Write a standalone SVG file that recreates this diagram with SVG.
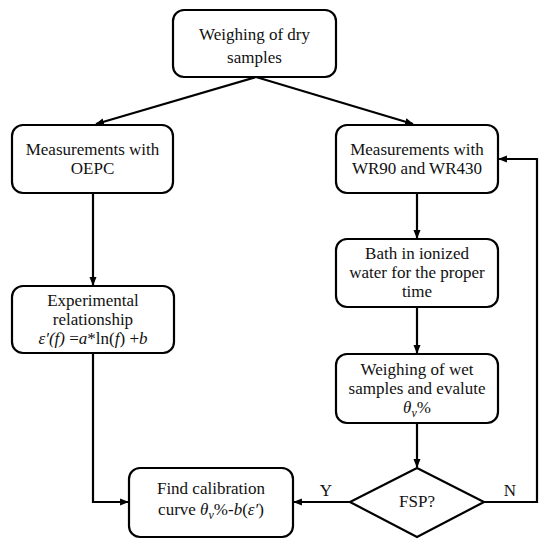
<svg xmlns="http://www.w3.org/2000/svg" width="550" height="549" viewBox="0 0 550 549">
<style>
.box{fill:#fff;stroke:#000;stroke-width:2.2}
.ln{fill:none;stroke:#000;stroke-width:2.2}
text{font-family:'Liberation Serif','DejaVu Serif','Times New Roman',Times,serif;font-size:17px;fill:#111;text-anchor:middle}
.i{font-style:italic}
.sub{font-size:12px;font-style:italic}
</style>
<defs>
<marker id="ah" viewBox="0 0 10 10" refX="9" refY="5" markerWidth="4" markerHeight="4" markerUnits="strokeWidth" orient="auto">
<path d="M0,1 L10,5 L0,9 Z" fill="#000"/>
</marker>
</defs>
<rect width="550" height="549" fill="#fff"/>
<g id="connectors">
<line class="ln" x1="256" y1="77" x2="96" y2="124" marker-end="url(#ah)"/>
<line class="ln" x1="256" y1="77" x2="413" y2="124" marker-end="url(#ah)"/>
<line class="ln" x1="93" y1="193" x2="93" y2="285" marker-end="url(#ah)"/>
<polyline class="ln" points="93,353 93,502 128,502" marker-end="url(#ah)"/>
<line class="ln" x1="417" y1="193" x2="417" y2="238" marker-end="url(#ah)"/>
<line class="ln" x1="417" y1="307" x2="417" y2="353" marker-end="url(#ah)"/>
<line class="ln" x1="417" y1="423" x2="417" y2="467" marker-end="url(#ah)"/>
<line class="ln" x1="350" y1="502" x2="294" y2="502" marker-end="url(#ah)"/>
<polyline class="ln" points="484,502 537,502 537,159 499,159" marker-end="url(#ah)"/>
<text x="326" y="496">Y</text>
<text x="510" y="496">N</text>
</g>
<g id="n1">
<rect class="box" x="173" y="10" width="163" height="67" rx="11"/>
<text x="254.5" y="40">Weighing of dry</text>
<text x="254.5" y="63">samples</text>
</g>
<g id="n2">
<rect class="box" x="12" y="125" width="161" height="68" rx="11"/>
<text x="92.5" y="155">Measurements with</text>
<text x="92.5" y="174">OEPC</text>
</g>
<g id="n3">
<rect class="box" x="336" y="125" width="162" height="68" rx="11"/>
<text x="417" y="155">Measurements with</text>
<text x="417" y="174">WR90 and WR430</text>
</g>
<g id="n4">
<rect class="box" x="12" y="286" width="162" height="67" rx="11"/>
<text x="93" y="306">Experimental</text>
<text x="93" y="325">relationship</text>
<text x="93" y="344"><tspan class="i">ε′(f)</tspan> =<tspan class="i">a</tspan>*ln(<tspan class="i">f</tspan>) +<tspan class="i">b</tspan></text>
</g>
<g id="n5">
<rect class="box" x="336" y="239" width="162" height="68" rx="11"/>
<text x="417" y="259">Bath in ionized</text>
<text x="417" y="278">water for the proper</text>
<text x="417" y="297">time</text>
</g>
<g id="n6">
<rect class="box" x="336" y="354" width="162" height="69" rx="11"/>
<text x="417" y="375">Weighing of wet</text>
<text x="417" y="394">samples and  evalute</text>
<text x="417" y="413"><tspan class="i">θ</tspan><tspan class="sub" dy="4">v</tspan><tspan dy="-4">%</tspan></text>
</g>
<g id="n7">
<polygon class="box" points="417,468 484,502 417,537 350,502"/>
<text x="417" y="507">FSP?</text>
</g>
<g id="n8">
<rect class="box" x="129" y="468" width="164" height="69" rx="11"/>
<text x="211" y="494">Find calibration</text>
<text x="211" y="515">curve <tspan class="i">θ</tspan><tspan class="sub" dy="4">v</tspan><tspan dy="-4">%-</tspan><tspan class="i">b</tspan>(<tspan class="i">ε′</tspan>)</text>
</g>
</svg>
